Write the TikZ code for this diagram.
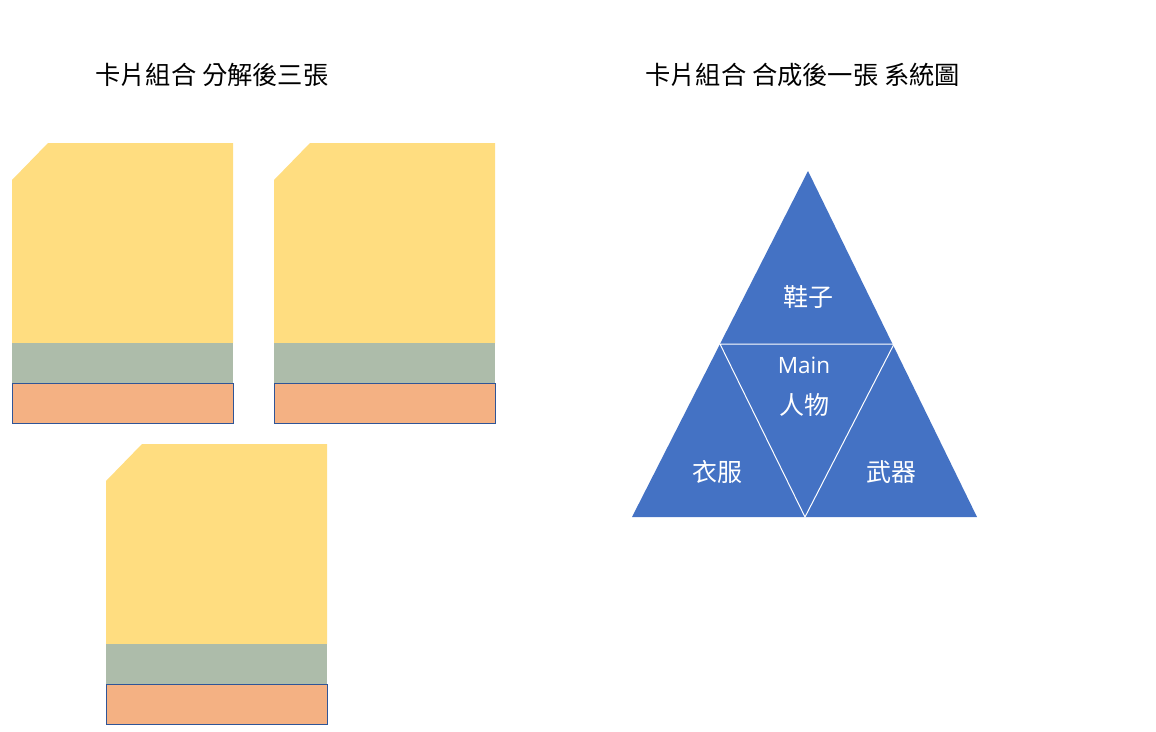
\documentclass[tikz,border=0pt]{standalone}
\usepackage{fontspec}
\newfontfamily\cjk{Noto Sans CJK TC}
\setmainfont{Open Sans}
\definecolor{cardyellow}{HTML}{FFDD80}
\definecolor{cardgreen}{HTML}{ADBCAA}
\definecolor{cardorange}{HTML}{F4B183}
\definecolor{cardborder}{HTML}{2F5597}
\definecolor{triblue}{HTML}{4472C4}
\tikzset{
  x=1pt,y=-1pt,
  title/.style={anchor=west,inner sep=0pt,font=\cjk\fontsize{25.3}{28}\selectfont},
  trilabel/.style={inner sep=0pt,text=white,font=\cjk\fontsize{25}{28}\selectfont},
  mainlabel/.style={inner sep=0pt,text=white,font=\fontsize{22.5}{25}\selectfont},
}
\newcommand{\card}[3]{% name, x, y
  \fill[cardyellow] (#2+36,#3) -- (#2+221,#3) -- (#2+221,#3+200) -- (#2,#3+200) -- (#2,#3+37) -- cycle;
  \fill[cardgreen] (#2,#3+200) rectangle (#2+221,#3+240);
  \node[draw=cardborder,fill=cardorange,line width=0.8pt,minimum width=221pt,minimum height=40pt,inner sep=0pt,anchor=north west] (#1) at (#2,#3+240) {};
}
\begin{document}
\begin{tikzpicture}
\useasboundingbox (0,0) rectangle (1156,731);
\node[title] (t1) at (95,75) {卡片組合 分解後三張};
\node[title] (t2) at (645,75) {卡片組合 合成後一張 系統圖};
\card{c1}{12}{143}
\card{c2}{274}{143}
\card{c3}{106}{444}
% triangle
\coordinate (A) at (808,171);
\coordinate (L) at (632,517);
\coordinate (R) at (977,517);
\coordinate (ML) at (720,344);
\coordinate (MR) at (894,344);
\coordinate (MB) at (805,517);
\fill[triblue] (A) -- (R) -- (L) -- cycle;
\draw[white,line width=1pt,line join=miter] (ML) -- (MR) -- (MB) -- cycle;
\node[trilabel] (shoes) at (808,297) {鞋子};
\node[mainlabel] (main) at (804,365) {Main};
\node[trilabel] (person) at (804,405) {人物};
\node[trilabel] (clothes) at (717,472) {衣服};
\node[trilabel] (weapon) at (891,472) {武器};
\end{tikzpicture}
\end{document}
